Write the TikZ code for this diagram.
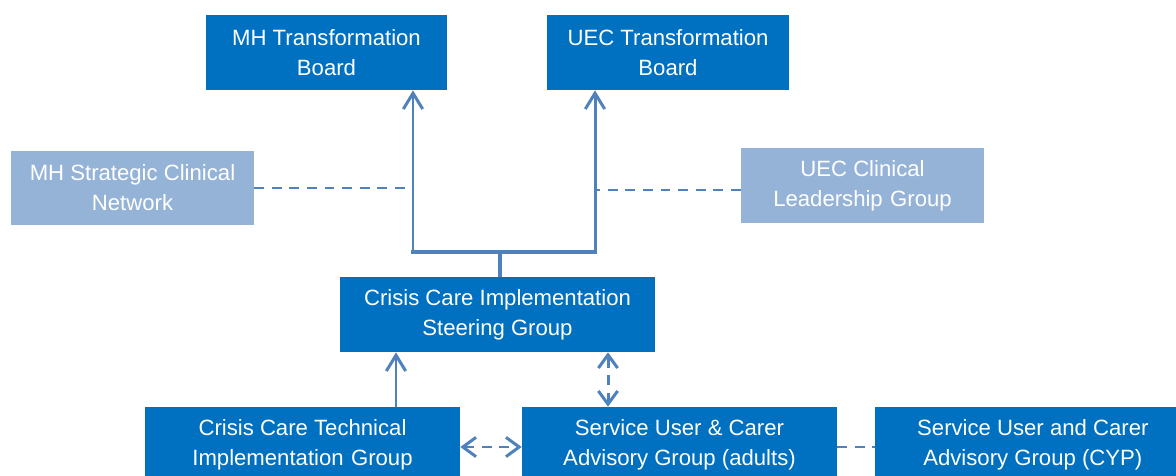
\documentclass[tikz,border=0pt]{standalone}
\usepackage{fontspec}
\setmainfont{Liberation Sans}
\usetikzlibrary{arrows.meta}
\definecolor{boxblue}{HTML}{0070C0}
\definecolor{paleblue}{HTML}{95B3D7}
\definecolor{linkblue}{HTML}{4F81BD}
\begin{document}
\begin{tikzpicture}[x=0.02cm,y=-0.02cm,
    board/.style={fill=boxblue,text=white,align=center,inner sep=0pt,
        minimum height=1.5cm,font=\fontsize{12.6}{17}\selectfont},
    advisory/.style={board,fill=paleblue},
    link/.style={draw=linkblue,line width=1.7pt},
    upto/.style={link,-{Straight Barb[length=9pt,width=11pt,line width=1.7pt]}},
    dashlink/.style={link,dash pattern=on 5.6pt off 4.4pt},
    both/.style={dashlink,{Straight Barb[length=7.5pt,width=11pt,line width=1.7pt]}-{Straight Barb[length=7.5pt,width=11pt,line width=1.7pt]}}]
    \useasboundingbox (0,0) rectangle (1176,476);
    \clip (0,0) rectangle (1176,476);

    % boards and groups
    \node[board,minimum width=4.82cm] (mhtb) at (326.5,52.5) {MH Transformation\\Board};
    \node[board,minimum width=4.84cm] (uectb) at (668,52.5) {UEC Transformation\\Board};
    \node[advisory,minimum width=4.86cm] (mhscn) at (132.5,188) {MH Strategic Clinical\\Network};
    \node[advisory,minimum width=4.86cm] (uecclg) at (862.5,185.5) {UEC Clinical\\Leadership\,\,Group};
    \node[board,minimum width=6.3cm] (steer) at (497.5,314.5) {Crisis Care Implementation\\Steering Group};
    \node[board,minimum width=6.3cm] (tech) at (302.5,444.5) {Crisis Care Technical\\Implementation\,\,Group};
    \node[board,minimum width=6.3cm] (sua) at (679.5,444.5) {Service User \& Carer\\Advisory Group (adults)};
    \node[board,minimum width=6.3cm,anchor=west] (suc) at (875,444.5) {Service User and Carer\\Advisory Group (CYP)};

    % reporting lines
    \coordinate (jl) at (413,252);
    \coordinate (jr) at (595,252);
    \draw[link,line width=2.8pt,line cap=rect] (jl) -- (jr);
    \draw[link,line width=2.8pt] (steer.north -| 500,0) -- (500,252);
    \draw[upto] (jl) -- (mhtb.south -| jl);
    \draw[upto] (jr) -- (uectb.south -| jr);
    \draw[dashlink] (mhscn.east) -- (mhscn.east -| jl);
    \draw[dashlink] (uecclg.west |- 0,190) -- (jr |- 0,190);
    \draw[upto] (tech.north -| 396,0) -- (steer.south -| 396,0);
    \draw[both] (sua.north -| 608,0) -- (steer.south -| 608,0);
    \draw[both] (tech.east |- 0,447) -- (sua.west |- 0,447);
    \draw[dashlink] (sua.east |- 0,447) -- (suc.west |- 0,447);
\end{tikzpicture}
\end{document}
